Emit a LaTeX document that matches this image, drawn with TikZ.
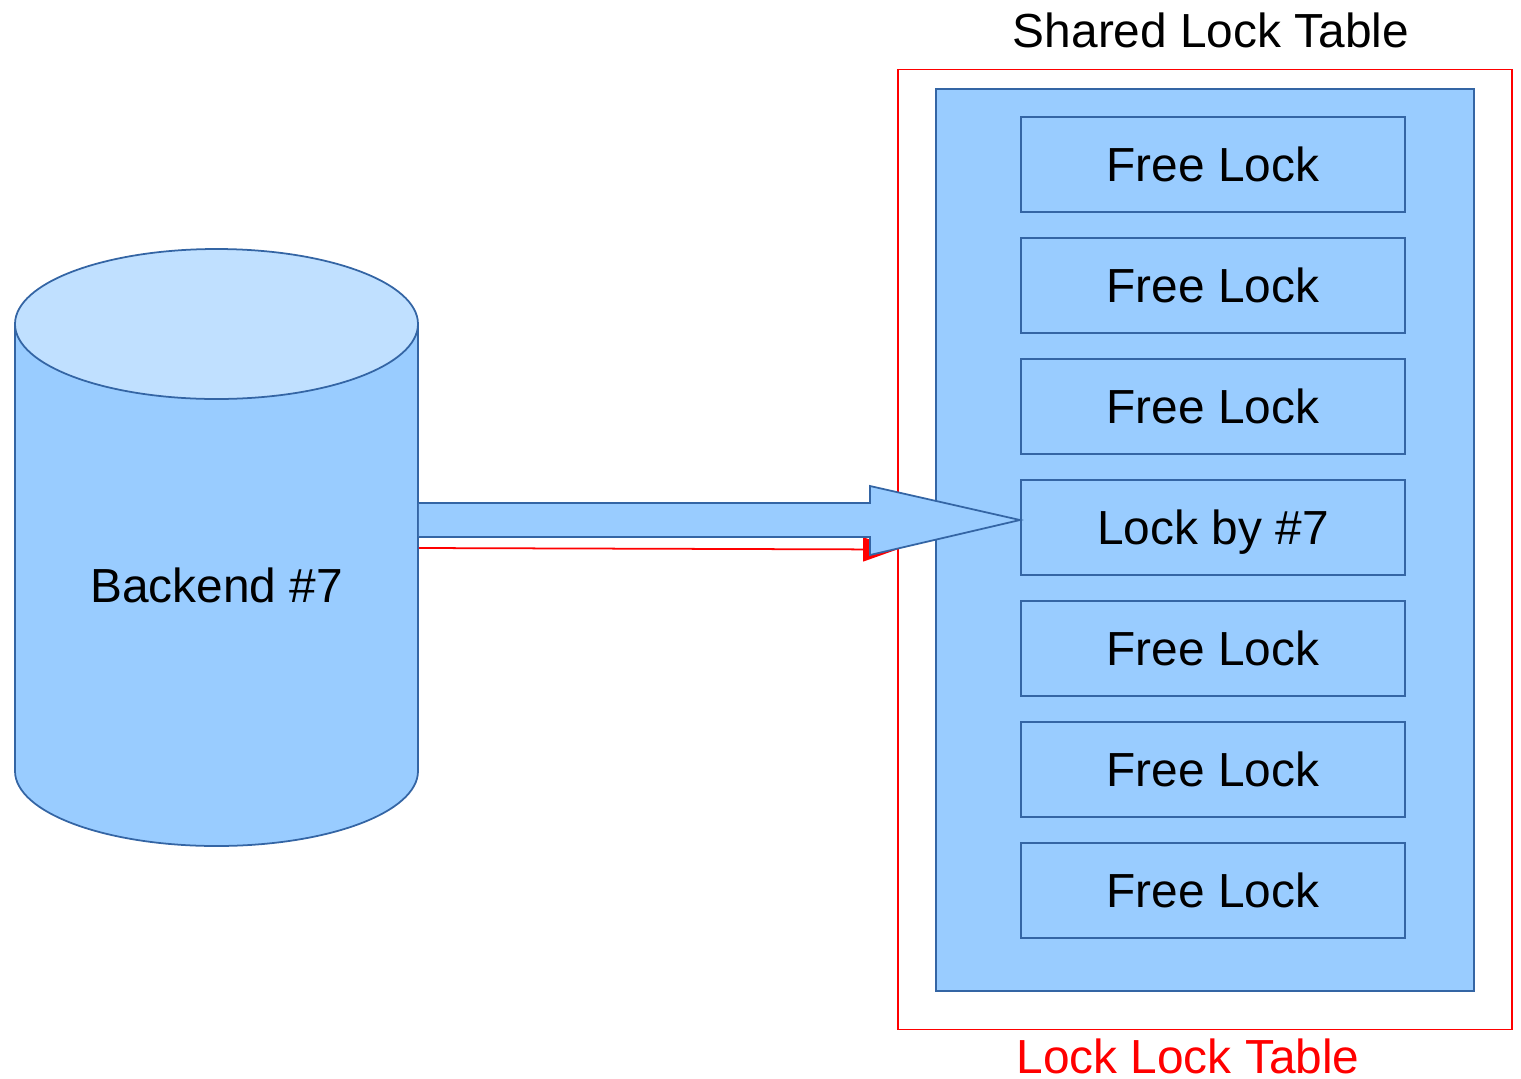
\documentclass[tikz,border=0pt]{standalone}
\usepackage{fontspec}
\setmainfont{Liberation Sans}
\usetikzlibrary{calc,arrows.meta}

\definecolor{lockfill}{HTML}{99CCFF}
\definecolor{lidfill}{HTML}{C0E0FF}
\definecolor{lockedge}{HTML}{3465A4}

\tikzset{
	label font/.style={font=\fontsize{13.6}{16}\selectfont},
	slot/.style={draw=lockedge, fill=lockfill, line width=0.5pt, minimum width=3.84cm, minimum height=0.95cm, inner sep=0pt, text height=9.9pt, text depth=0pt, label font},
}

\begin{document}
\begin{tikzpicture}[x=0.01cm, y=-0.01cm]
		\useasboundingbox (0,0) rectangle (1521,1078);
		
		% backend cylinder
		\draw[lockedge, fill=lockfill, line width=0.5pt] (15,324) -- (15,771) arc[start angle=180, end angle=0, x radius=201.5, y radius=75] -- (418,324);
		\draw[lockedge, fill=lidfill, line width=0.5pt] (216.5,324) ellipse[x radius=201.5, y radius=75];
		\node[minimum width=4.03cm, minimum height=5.96cm, inner sep=0pt] (backend) at (216.5,548) {};
		\node[label font] (backendname) at (216.5,585) {Backend \#7};
		
		% shared lock table
		\node[draw=red, line width=0.4pt, minimum width=6.14cm, minimum height=9.59cm] (locktable) at (1205,549.5) {};
		\node[draw=lockedge, fill=lockfill, line width=0.5pt, minimum width=5.38cm, minimum height=9.02cm] (pool) at (1205,540) {};
		
		\node[slot] (lock1) at (1213,164.5) {Free Lock};
		\node[slot] (lock2) at (1213,285.5) {Free Lock};
		\node[slot] (lock3) at (1213,406.5) {Free Lock};
		\node[slot] (lock4) at (1213,527.5) {Lock by \#7};
		\node[slot] (lock5) at (1213,648.5) {Free Lock};
		\node[slot] (lock6) at (1213,769.5) {Free Lock};
		\node[slot] (lock7) at (1213,890.5) {Free Lock};
		
		\node[label font] (title) at (1211,30) {Shared Lock Table};
		\node[label font, text=red, inner sep=0pt, text height=9.9pt, text depth=0pt] (caption) at (1188,1056) {Lock Lock Table};
		
		% red link to the table frame
		\draw[red, line width=0.5pt, -{Triangle[length=0.34cm, width=0.24cm]}] (backend.east) -- (locktable.west);
		
		% block arrow into the locked slot
		\coordinate (tip) at ($(lock4.west)+(0,-7.5)$);
		\coordinate (tail) at (backend.east |- tip);
		\draw[lockedge, fill=lockfill, line width=0.5pt, line join=miter] ($(tail)+(0,-17)$) -- ($(tip)+(-150,-17)$) -- ($(tip)+(-150,-34)$) -- (tip) -- ($(tip)+(-150,35)$) -- ($(tip)+(-150,17)$) -- ($(tail)+(0,17)$);
	\end{tikzpicture}
\end{document}
